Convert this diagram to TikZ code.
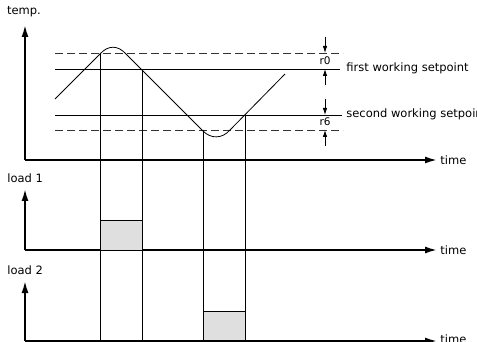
\documentclass[tikz,border=0pt]{standalone}
\usepackage{fontspec}
\setmainfont{DejaVu Sans}
\usetikzlibrary{arrows.meta}
\begin{document}
\begin{tikzpicture}[x=1pt, y=-1pt, line width=0.8pt,
    axis/.style={line width=1.8pt, -{Latex[length=12pt, width=7pt]}},
    hystarrow/.style={line width=0.8pt, -{Latex[length=7pt, width=4.5pt]}},
    lvl/.style={dash pattern=on 8pt off 4pt, black!80},
    load/.style={draw, fill=gray!25, line width=0.8pt},
    every node/.style={font=\fontsize{11.5}{14}\selectfont, inner sep=1pt}]
    \useasboundingbox (0,0) rectangle (477,342);

    % 温度坐标
    \draw[axis] (25,160) -- (25,25);
    \draw[axis] (25,160) -- (437,160);
    \node (temp) at (24,12) {temp.};
    \node[anchor=west] (time1) at (439,160) {time};

    % 设定值与回差
    \draw[lvl] (55,53) -- (343,53);
    \draw (55,69) -- (340,69);
    \draw (55,115) -- (342,115);
    \draw[lvl] (55,130) -- (343,130);
    \node[anchor=west] (set1) at (345,68) {first working setpoint};
    \node[anchor=west] (set2) at (345,114) {second working setpoint};

    % r0 / r6 箭头
    \draw[hystarrow] (325,37) -- (325,53);
    \draw[hystarrow] (325,85) -- (325,69);
    \node[font=\fontsize{10.5}{12}\selectfont] (r0) at (325,61) {r0};
    \draw[hystarrow] (325,99) -- (325,115);
    \draw[hystarrow] (325,146) -- (325,130);
    \node[font=\fontsize{10.5}{12}\selectfont] (r6) at (325,122) {r6};

    % 温度曲线
    \draw (55,99) -- (100,54) .. controls (108,45) and (118,45) .. (126,54)
        -- (203,131) .. controls (211,139) and (222,139) .. (230,130) -- (285,74);

    % 切换时刻
    \draw (100,54) -- (100,342);
    \draw (142,69) -- (142,342);
    \draw (203,130) -- (203,342);
    \draw (245,115) -- (245,342);

    % 负载 1
    \draw[axis] (25,250) -- (25,189);
    \draw[axis] (25,250) -- (437,250);
    \node[anchor=west] (load1) at (6,178) {load 1};
    \node[anchor=west] (time2) at (439,250) {time};
    \draw[load] (100,220) rectangle (142,250);

    % 负载 2
    \draw[load] (203,311) rectangle (245,341);
    \draw[axis] (25,341) -- (25,281);
    \draw[axis] (25,341) -- (437,341);
    \node[anchor=west] (load2) at (6,270) {load 2};
    \node[anchor=west] (time3) at (439,339) {time};
\end{tikzpicture}
\end{document}
